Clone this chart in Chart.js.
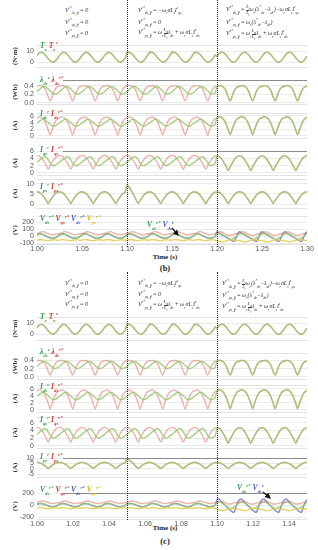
<!DOCTYPE html>
<html>
<head>
<meta charset="utf-8">
<script src="https://cdn.jsdelivr.net/npm/chart.js@4.4.1/dist/chart.umd.min.js"></script>
<style>
  html, body { margin: 0; padding: 0; background: #fff; }
  body { position: relative; width: 318px; height: 550px; overflow: hidden; font-family: "Liberation Serif", serif; }
  .p { position: absolute; left: 0; width: 318px; }
  .t { position: absolute; white-space: nowrap; line-height: 1; transform: translateY(-50%); z-index: 5; }
  .eq { font-size: 6px; font-style: italic; color: #333; letter-spacing: -0.15px; }
  .lg { font-size: 7.5px; font-style: italic; font-weight: bold; }
  .t sub, .t sup { font-size: 65%; line-height: 0; }
  .fr { display: inline-block; vertical-align: middle; text-align: center; font-size: 75%; line-height: 1; }
  .fr span { display: block; }
  .fr span + span { border-top: 0.5px solid #444; }
  .vl { position: absolute; width: 0; border-left: 1px dotted #222; z-index: 4; }
  .cap { position: absolute; font-weight: bold; color: #222; transform: translate(-50%, -50%); white-space: nowrap; }
  svg { position: absolute; left: 0; top: 0; z-index: 6; }
</style>
</head>
<body>
<svg width="318" height="550">
  <defs>
    <marker id="ah" markerWidth="5" markerHeight="5" refX="4" refY="2.5" orient="auto">
      <path d="M0,0 L5,2.5 L0,5 z" fill="#111"/>
    </marker>
  </defs>
  <line x1="172" y1="228" x2="178" y2="235" stroke="#111" stroke-width="1.2" marker-end="url(#ah)"/>
  <line x1="263" y1="492" x2="270" y2="498" stroke="#111" stroke-width="1.2" marker-end="url(#ah)"/>
</svg>
<div class="cap" style="left:165px;top:257px;font-size:7px">Time (s)</div>
<div class="cap" style="left:165px;top:268px;font-size:8.5px">(b)</div>
<div class="cap" style="left:165px;top:528px;font-size:7px">Time (s)</div>
<div class="cap" style="left:165px;top:541px;font-size:8.5px">(c)</div>
<script>
// segment edges (s) and x ticks
const edgesB = [1.00, 1.10, 1.20, 1.30];
const edgesC = [1.00, 1.05, 1.10, 1.15];
const xStepB = 0.05;
const xStepC = 0.02;

// y tick labels
const yTicksTe = [0, 10];
const yTicksLam = [0, 0.2, 0.4];
const yTicksI = [0, 2, 4, 6];
const yTicksIpsB = [0, 5, 10];
const yTicksIpsC = [-5, 0, 5, 10];
const yTicksVB = [-100, 0, 100, 200];
const yTicksVC = [-200, 0, 200];

// one period per segment, 12 samples each
const teMeas = [
  [5.9, 7.8, 8.9, 8.8, 7.5, 5.4, 3.1, 1.2, 0.1, 0.2, 1.5, 3.6],
  [8.5, 9.0, 8.4, 7.0, 5.0, 2.9, 1.1, 0.1, 0.3, 1.6, 3.8, 6.3],
  [5.5, 7.6, 9.0, 9.3, 8.4, 6.6, 4.3, 2.2, 0.6, 0.1, 0.9, 2.9]
];
const teRef = [
  [6.6, 8.4, 9.3, 9.0, 7.6, 5.5, 3.4, 1.5, 0.5, 0.6, 2.0, 4.2],
  [9.6, 9.6, 8.8, 7.2, 5.2, 3.0, 1.2, 0.3, 0.6, 2.0, 4.3, 7.0],
  [5.7, 7.8, 9.1, 9.3, 8.3, 6.4, 4.1, 2.0, 0.5, 0.1, 1.1, 3.1]
];
const lamMeas = [
  [0.26, 0.30, 0.34, 0.37, 0.38, 0.36, 0.32, 0.28, 0.24, 0.21, 0.21, 0.23],
  [0.26, 0.30, 0.34, 0.37, 0.38, 0.36, 0.32, 0.28, 0.24, 0.21, 0.21, 0.23],
  [0.38, 0.40, 0.40, 0.38, 0.33, 0.25, 0.13, 0.05, 0.15, 0.27, 0.34, 0.37]
];
const lamRef = [
  [0.39, 0.40, 0.40, 0.38, 0.34, 0.26, 0.14, 0.05, 0.14, 0.26, 0.34, 0.38],
  [0.39, 0.40, 0.40, 0.38, 0.34, 0.26, 0.14, 0.05, 0.14, 0.26, 0.34, 0.38],
  [0.39, 0.40, 0.40, 0.38, 0.34, 0.26, 0.14, 0.05, 0.14, 0.26, 0.34, 0.38]
];
const idsMeas = [
  [3.9, 4.3, 4.7, 5.0, 4.9, 4.5, 4.0, 3.5, 3.1, 2.9, 3.1, 3.5],
  [3.9, 4.3, 4.7, 5.0, 4.9, 4.5, 4.0, 3.5, 3.1, 2.9, 3.1, 3.5],
  [5.5, 5.8, 5.7, 5.3, 4.6, 3.4, 1.9, 0.5, 1.9, 3.4, 4.6, 5.3]
];
const idsRef = [
  [5.4, 5.7, 5.6, 5.2, 4.5, 3.3, 1.8, 0.3, 1.8, 3.3, 4.5, 5.2],
  [5.4, 5.7, 5.6, 5.2, 4.5, 3.3, 1.8, 0.3, 1.8, 3.3, 4.5, 5.2],
  [5.4, 5.7, 5.6, 5.2, 4.5, 3.3, 1.8, 0.3, 1.8, 3.3, 4.5, 5.2]
];
const iqsMeas = [
  [3.0, 3.4, 3.8, 4.2, 4.5, 4.3, 3.6, 2.8, 2.2, 2.0, 2.3, 2.6],
  [3.0, 3.4, 3.8, 4.2, 4.5, 4.3, 3.6, 2.8, 2.2, 2.0, 2.3, 2.6],
  [4.7, 4.6, 4.2, 3.5, 2.6, 1.7, 0.7, 1.7, 2.6, 3.5, 4.2, 4.6]
];
const iqsRef = [
  [4.8, 4.7, 4.3, 3.7, 2.9, 2.0, 1.0, 2.0, 2.9, 3.7, 4.3, 4.7],
  [4.8, 4.7, 4.3, 3.7, 2.9, 2.0, 1.0, 2.0, 2.9, 3.7, 4.3, 4.7],
  [4.7, 4.6, 4.2, 3.5, 2.6, 1.7, 0.7, 1.7, 2.6, 3.5, 4.2, 4.6]
];
const ipsMeas = [
  [6.0, 5.8, 5.2, 4.3, 3.0, 1.7, 0.2, 1.7, 3.0, 4.3, 5.2, 5.8],
  [6.0, 5.8, 5.2, 4.3, 3.0, 1.7, 0.2, 1.7, 3.0, 4.3, 5.2, 5.8],
  [6.0, 5.8, 5.2, 4.3, 3.0, 1.7, 0.2, 1.7, 3.0, 4.3, 5.2, 5.8]
];
const ipsRef = [
  [6.2, 6.0, 5.4, 4.5, 3.2, 1.8, 0.4, 1.8, 3.2, 4.5, 5.4, 6.0],
  [6.2, 6.0, 5.4, 4.5, 3.2, 1.8, 0.4, 1.8, 3.2, 4.5, 5.4, 6.0],
  [6.2, 6.0, 5.4, 4.5, 3.2, 1.8, 0.4, 1.8, 3.2, 4.5, 5.4, 6.0]
];
// first period after the 2nd switch (transient)
const ipsMeasStart = [null, [9.0, 8.3, 7.0, 5.4, 3.6, 1.8, 0.3, 1.7, 3.0, 4.3, 5.2, 5.8], null];
const ipsRefStart = [null, [9.6, 8.8, 7.4, 5.7, 3.8, 2.0, 0.5, 1.8, 3.2, 4.5, 5.4, 6.0], null];

// voltages, fig (b)
const vdsRefB = [
  [18, 27, 30, 26, 15, 1, -13, -24, -29, -27, -18, -3],
  [18, 27, 30, 26, 15, 1, -13, -24, -29, -27, -18, -3],
  [30, 38, 35, 22, 5, -15, -32, -42, -40, -28, -8, 14]
];
const vqsRefB = [
  [38, 48, 58, 64, 57, 47, 37, 27, 20, 23, 29, 34],
  [38, 48, 58, 64, 57, 47, 37, 27, 20, 23, 29, 34],
  [45, 58, 62, 52, 38, 24, 14, 10, 16, 26, 34, 40]
];
const vdsB = [
  [20, 28, 30, 25, 13, -1, -15, -26, -30, -27, -19, -4],
  [20, 28, 30, 25, 13, -1, -15, -26, -30, -27, -19, -4],
  [65, 48, 30, 14, -2, -18, -33, -48, -62, -75, -30, 35]
];
const vpsRefB = [
  [-55, -50, -47, -50, -56, -61, -62, -58, -53, -50, -52, -57],
  [-55, -50, -47, -50, -56, -61, -62, -58, -53, -50, -52, -57],
  [-62, -70, -78, -80, -74, -66, -58, -52, -50, -54, -58, -60]
];
// voltages, fig (c)
const vdsRefC = [
  [15, 24, 28, 25, 15, 2, -12, -22, -27, -25, -17, -3],
  [15, 24, 28, 25, 15, 2, -12, -22, -27, -25, -17, -3],
  [40, 50, 45, 28, 5, -20, -42, -55, -52, -35, -10, 18]
];
const vqsRefC = [
  [45, 55, 65, 70, 62, 52, 42, 33, 28, 30, 36, 40],
  [45, 55, 65, 70, 62, 52, 42, 33, 28, 30, 36, 40],
  [50, 65, 72, 60, 45, 30, 20, 18, 25, 35, 42, 46]
];
const vdsC = [
  [17, 25, 28, 24, 13, 0, -14, -23, -28, -25, -17, -2],
  [17, 25, 28, 24, 13, 0, -14, -23, -28, -25, -17, -2],
  [90, 105, 70, 35, 5, -25, -55, -85, -110, -120, -40, 45]
];
const vpsRefC = [
  [-50, -45, -42, -45, -52, -58, -60, -56, -50, -46, -47, -52],
  [-50, -45, -42, -45, -52, -58, -60, -56, -50, -46, -47, -52],
  [-70, -80, -90, -92, -85, -75, -65, -58, -56, -60, -65, -68]
];

const GREEN = 'rgba(150,200,110,0.85)';
const RED = 'rgba(215,120,100,0.55)';
const BLUE = 'rgba(95,120,210,0.85)';
const YELLOW = 'rgba(225,205,80,0.9)';

// tile the per-period samples over 4 periods of each segment
function wave(edges, cycles, starts) {
  const pts = [];
  for (let s = 0; s < 3; s++) {
    const T = (edges[s + 1] - edges[s]) / 4;
    for (let k = 0; k < 4; k++) {
      const cyc = (k === 0 && starts && starts[s]) || cycles[s];
      cyc.forEach((v, i) => pts.push({ x: edges[s] + (k + i / 12) * T, y: v }));
    }
  }
  pts.push({ x: edges[3], y: cycles[2][0] });
  return pts;
}

const framePlugin = {
  id: 'frame',
  beforeDatasetsDraw(chart, args, opts) {
    const { ctx, chartArea: a } = chart;
    ctx.save();
    ctx.lineWidth = 1;
    ctx.strokeStyle = '#e2e2e2';
    ctx.beginPath();
    ctx.moveTo(a.left, Math.round(a.bottom) + 0.5);
    ctx.lineTo(a.right, Math.round(a.bottom) + 0.5);
    ctx.stroke();
    ctx.strokeStyle = opts.dark ? '#8c8c8c' : '#e2e2e2';
    ctx.beginPath();
    ctx.moveTo(opts.dark ? 63 : a.left, Math.round(a.top) + 0.5);
    ctx.lineTo(a.right, Math.round(a.top) + 0.5);
    ctx.stroke();
    ctx.restore();
  }
};

function panel(o) {
  const pad = 6, xh = o.xAxis ? 12 : 0;
  const box = document.createElement('div');
  box.className = 'p';
  box.style.top = (o.top - pad) + 'px';
  box.style.height = (o.bottom - o.top + 2 * pad + xh) + 'px';
  const cv = document.createElement('canvas');
  box.appendChild(cv);
  document.body.appendChild(box);
  return new Chart(cv, {
    type: 'line',
    data: {
      datasets: o.sets.map(s => ({
        data: s.data, borderColor: s.color, borderWidth: 1.4,
        pointRadius: 0, tension: 0.35, fill: false
      }))
    },
    options: {
      responsive: true,
      maintainAspectRatio: false,
      animation: false,
      events: [],
      layout: { padding: { top: pad, bottom: pad, left: 0, right: 11 } },
      plugins: {
        legend: { display: false },
        tooltip: { enabled: false },
        frame: { dark: !!o.dark }
      },
      scales: {
        x: {
          type: 'linear',
          min: o.edges[0],
          max: o.edges[3],
          display: !!o.xAxis,
          afterFit(s) { s.height = o.xAxis ? xh : 0; },
          grid: { display: false, drawTicks: false },
          border: { display: false },
          ticks: {
            stepSize: o.step, includeBounds: false, maxRotation: 0, padding: 1,
            autoSkip: false,
            color: '#555', font: { family: 'Liberation Sans', size: 7 },
            callback: v => v.toFixed(2)
          }
        },
        y: {
          min: o.min,
          max: o.max,
          afterFit(s) { s.width = 37; },
          afterBuildTicks(s) { s.ticks = o.ticks.map(v => ({ value: v })); },
          grid: { color: '#e6e6e6', lineWidth: 0.8, drawTicks: false },
          border: { display: false },
          title: {
            display: true, text: o.unit, color: '#333',
            font: { family: 'Liberation Serif', size: 7, weight: 'bold' },
            padding: { top: 11, bottom: 0 }
          },
          ticks: {
            padding: 3, color: '#555', autoSkip: false,
            font: { family: 'Liberation Sans', size: 7 },
            callback: v => o.fmt ? v.toFixed(1) : String(v)
          }
        }
      }
    },
    plugins: [framePlugin]
  });
}

function pair(edges, meas, ref, mStart, rStart) {
  return [
    { data: wave(edges, meas, mStart), color: GREEN },
    { data: wave(edges, ref, rStart), color: RED }
  ];
}

function figure(edges, step, L, volts) {
  const out = [];
  out.push(panel({ ...L[0], edges, step, ticks: yTicksTe, unit: '(N·m)', sets: pair(edges, teMeas, teRef) }));
  out.push(panel({ ...L[1], edges, step, ticks: yTicksLam, unit: '(Wb)', fmt: true, sets: pair(edges, lamMeas, lamRef) }));
  out.push(panel({ ...L[2], edges, step, ticks: yTicksI, unit: '(A)', sets: pair(edges, idsMeas, idsRef) }));
  out.push(panel({ ...L[3], edges, step, ticks: yTicksI, unit: '(A)', sets: pair(edges, iqsMeas, iqsRef) }));
  out.push(panel({ ...L[4], edges, step, unit: '(A)', sets: pair(edges, ipsMeas, ipsRef, ipsMeasStart, ipsRefStart) }));
  out.push(panel({ ...L[5], edges, step, unit: '(V)', xAxis: true, sets: [
    { data: wave(edges, volts[3]), color: YELLOW },
    { data: wave(edges, volts[1]), color: RED },
    { data: wave(edges, volts[0]), color: GREEN },
    { data: wave(edges, volts[2]), color: BLUE }
  ] }));
  return out;
}

const layoutB = [
  { top: 44, bottom: 68, min: -4.2, max: 15.8 },
  { top: 79, bottom: 105, min: -0.02, max: 0.527, dark: true },
  { top: 112, bottom: 139, min: -0.55, max: 6.82 },
  { top: 150, bottom: 176, min: -0.5, max: 6, dark: true },
  { top: 178, bottom: 209, min: -1.82, max: 12.27, ticks: yTicksIpsB },
  { top: 215, bottom: 244, min: -110, max: 282, ticks: yTicksVB }
];
const layoutC = [
  { top: 316, bottom: 341, min: -5, max: 15.8 },
  { top: 352, bottom: 380, min: -0.044, max: 0.578 },
  { top: 384, bottom: 413, min: -0.52, max: 7.04 },
  { top: 416, bottom: 449, min: -0.48, max: 7.44 },
  { top: 457, bottom: 478, min: -7.5, max: 10, ticks: yTicksIpsC, dark: true },
  { top: 492, bottom: 519, min: -232, max: 200, ticks: yTicksVC, dark: true }
];

const chartsB = figure(edgesB, xStepB, layoutB, [vdsRefB, vqsRefB, vdsB, vpsRefB]);
const chartsC = figure(edgesC, xStepC, layoutC, [vdsRefC, vqsRefC, vdsC, vpsRefC]);

// dotted switching instants, placed with the x scale
function vline(chart, t, y0, y1) {
  const d = document.createElement('div');
  d.className = 'vl';
  d.style.left = Math.round(chart.scales.x.getPixelForValue(t)) + 'px';
  d.style.top = y0 + 'px';
  d.style.height = (y1 - y0) + 'px';
  document.body.appendChild(d);
}
vline(chartsB[5], edgesB[1], 0, 247);
vline(chartsB[5], edgesB[2], 0, 247);
vline(chartsC[5], edgesC[1], 272, 520);
vline(chartsC[5], edgesC[2], 272, 520);

function text(cls, x, y, html) {
  const d = document.createElement('div');
  d.className = 't ' + cls;
  d.style.left = x + 'px';
  d.style.top = y + 'px';
  d.innerHTML = html;
  document.body.appendChild(d);
}
const fr = (a, b) => `<span class="fr"><span>${a}</span><span>${b}</span></span>`;
const V = s => `V<sup>r*</sup><sub>${s}_ff</sub> = `;
const eqSets = [
  [V('ds') + '0', V('qs') + '0', V('ps') + '0'],
  [V('ds') + '−ω<sub>r</sub>σL<sub>s</sub>I<sup>r</sup><sub>qs</sub>', V('qs') + '0',
   V('ps') + 'ω<sub>r</sub>' + fr('L<sub>m</sub>', 'L<sub>r</sub>') + 'λ<sub>dr</sub> + ω<sub>r</sub>σL<sub>s</sub>I<sup>r</sup><sub>ds</sub>'],
  [V('ds') + fr('L<sub>s</sub>', 'L<sub>r</sub>') + 'ω<sub>r</sub>(λ<sup>*</sup><sub>dr</sub>−λ<sub>dr</sub>)−ω<sub>r</sub>σL<sub>s</sub>I<sup>r</sup><sub>qs</sub>',
   V('qs') + 'ω<sub>r</sub>(λ<sup>*</sup><sub>dr</sub>−λ<sub>dr</sub>)',
   V('ps') + 'ω<sub>r</sub>' + fr('L<sub>m</sub>', 'L<sub>r</sub>') + 'λ<sub>dr</sub> + ω<sub>r</sub>σL<sub>s</sub>I<sup>r</sup><sub>ds</sub>']
];
[[65, [10, 22, 33]], [138, [10, 22, 33]], [226, [10, 22, 34]]].forEach(([x, ys], i) =>
  ys.forEach((y, j) => text('eq', x, y, eqSets[i][j])));
[[65, [282, 293, 303]], [138, [282, 293, 304]], [222, [283, 294, 306]]].forEach(([x, ys], i) =>
  ys.forEach((y, j) => text('eq', x, y + 1, eqSets[i][j])));

const g = h => `<span style="color:#2f9e4a">${h}</span>`;
const r = h => `<span style="color:#cc3b35">${h}</span>`;
const b = h => `<span style="color:#4060c4">${h}</span>`;
const yl = h => `<span style="color:#d8b820">${h}</span>`;
const legendRows = [
  g('T<sub>e</sub>') + ' ' + r('T<sub>e</sub><sup>*</sup>'),
  g('λ<sub>ds</sub><sup>r</sup>') + ' ' + r('λ<sub>ds</sub><sup>r*</sup>'),
  g('I<sub>ds</sub><sup>r</sup>') + ' ' + r('I<sub>ds</sub><sup>r*</sup>'),
  g('I<sub>qs</sub><sup>r</sup>') + ' ' + r('I<sub>qs</sub><sup>r*</sup>'),
  g('I<sub>ps</sub><sup>r</sup>') + ' ' + r('I<sub>ps</sub><sup>r*</sup>'),
  g('V<sub>ds</sub><sup>r*</sup>') + ' ' + r('V<sub>qs</sub><sup>r*</sup>') + ' ' +
    b('V<sub>ds</sub><sup>r*</sup>') + ' ' + yl('V<sub>ps</sub><sup>r*</sup>')
];
[46, 80, 114, 150, 187, 219].forEach((y, i) => text('lg', 40, y, legendRows[i]));
[317, 352, 387, 420, 457, 490].forEach((y, i) => text('lg', 40, y, legendRows[i]));
text('lg', 147, 225, g('V<sub>ds</sub><sup>r*</sup>') + ' ' + b('V<sub>ds</sub><sup>r</sup>'));
text('lg', 237, 488, g('V<sub>ds</sub><sup>r*</sup>') + ' ' + b('V<sub>ds</sub><sup>r</sup>'));
</script>
</body>
</html>
